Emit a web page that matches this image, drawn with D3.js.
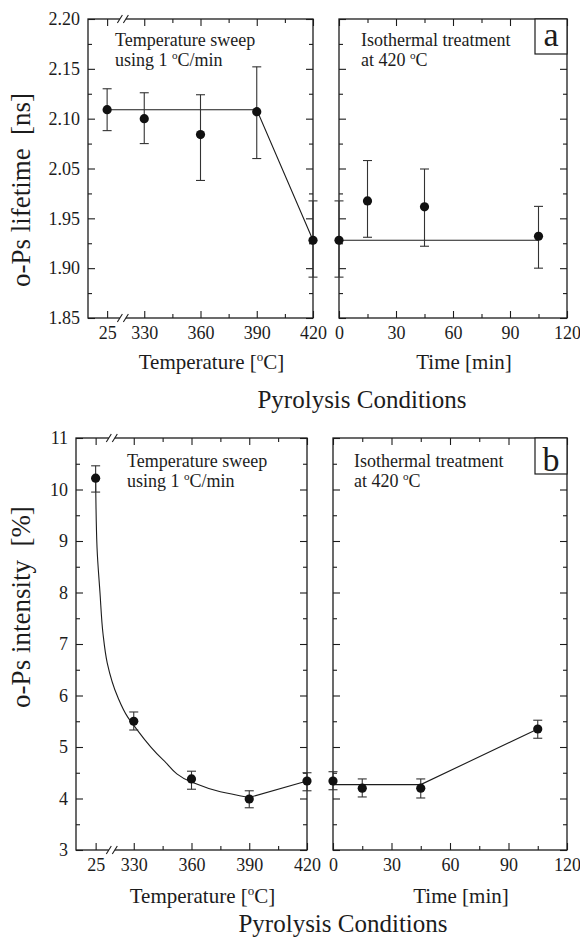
<!DOCTYPE html>
<html>
<head>
<meta charset="utf-8">
<script src="https://cdn.jsdelivr.net/npm/d3@7"></script>
<style>
  body { margin: 0; background: #fff; }
  svg { display: block; }
  svg text { font-family: "Liberation Serif", "Times New Roman", serif; }
</style>
</head>
<body>
<svg id="chart" width="580" height="937"></svg>
<script>
/* Temperature sweep data (left plots) */
const sweepTemps = [25, 330, 360, 390, 420];
const sweepLifetime = [2.109, 2.100, 2.084, 2.107, 1.928];
const sweepLifetimeHi = [2.130, 2.126, 2.124, 2.152, 1.985];
const sweepLifetimeLo = [2.088, 2.075, 2.026, 2.060, 1.891];
const sweepIntensity = [10.22, 5.50, 4.38, 3.99, 4.34];
const sweepIntensityHi = [10.46, 5.68, 4.53, 4.15, 4.50];
const sweepIntensityLo = [9.95, 5.33, 4.18, 3.82, 4.15];

/* Isothermal treatment data (right plots) */
const isoTimes = [0, 15, 45, 105];
const isoLifetime = [1.928, 1.985, 1.973, 1.932];
const isoLifetimeHi = [1.985, 2.058, 2.049, 1.974];
const isoLifetimeLo = [1.891, 1.931, 1.922, 1.900];
const isoIntensity = [4.34, 4.20, 4.20, 5.35];
const isoIntensityHi = [4.52, 4.38, 4.38, 5.52];
const isoIntensityLo = [4.17, 4.03, 4.01, 5.17];

/* Fit lines */
const lifetimeFitTemps = [25, 390, 420];
const lifetimeFitValues = [2.109, 2.109, 1.928];
const lifetimeFitTimes = [0, 105];
const lifetimeFitTimeValues = [1.928, 1.928];
const intensityFitTemps = [25, 36, 60, 84, 118, 202, 282, 330, 345, 360, 375, 390];
const intensityFitValues = [10.22, 8.88, 7.99, 7.20, 6.63, 5.97, 5.58, 5.42, 4.76, 4.32, 4.13, 4.02];
const intensityFitTailTemps = [390, 420];
const intensityFitTailValues = [4.02, 4.34];
const intensityFitTimes = [0, 45, 105];
const intensityFitTimeValues = [4.27, 4.27, 5.35];

/* Ticks */
const tempTicks = [25, 330, 360, 390, 420];
const tempMinorTicks = [345, 375, 405];
const timeTicks = [0, 30, 60, 90, 120];
const timeMinorTicks = [15, 45, 75, 105];
const lifetimeTicks = [1.85, 1.90, 1.95, 2.05, 2.10, 2.15, 2.20];
const lifetimeMinorTicks = [1.875, 1.925, 2.00, 2.075, 2.125, 2.175];
const intensityTicks = [3, 4, 5, 6, 7, 8, 9, 10, 11];
const intensityMinorTicks = [3.5, 4.5, 5.5, 6.5, 7.5, 8.5, 9.5, 10.5];

const FONT = '"Liberation Serif", "Times New Roman", serif';
const INK = '#1c1c1c';

let svg = d3.select('#chart')
    .attr('font-family', FONT)
    .attr('fill', INK);

/**
 * Append text with '^' marking a superscript letter (e.g. '^oC').
 */
function addText(parent, str, size) {
  let text = parent.append('text')
      .attr('font-family', FONT)
      .attr('font-size', size)
      .attr('fill', INK)
      .attr('xml:space', 'preserve');
  let parts = str.split('^');
  let shift = Math.round(size * 0.4);
  text.append('tspan').text(parts[0]);
  parts.slice(1).forEach(p => {
    text.append('tspan')
        .attr('dy', -shift)
        .attr('font-size', size * 0.62)
        .text(p[0]);
    text.append('tspan')
        .attr('dy', shift)
        .text(p.slice(1));
  });
  return text;
}

/**
 * Add one axis side of a plot, major and minor ticks, ticks pointing inward.
 */
function addAxis(g, axisFn, scale, ticks, minor, transform, labels) {
  let major = axisFn(scale)
      .tickValues(ticks)
      .tickSizeInner(-7)
      .tickSizeOuter(0)
      .tickPadding(8)
      .tickFormat(labels ? labels : '');
  let small = axisFn(scale)
      .tickValues(minor)
      .tickSizeInner(-4)
      .tickSizeOuter(0)
      .tickFormat('');

  [major, small].forEach(axis => {
    g.append('g')
        .attr('transform', transform)
        .call(axis)
        .call(a => a.attr('font-family', FONT).attr('font-size', 18))
        .call(a => a.select('.domain').remove())
        .call(a => a.selectAll('line').attr('stroke', INK).attr('stroke-width', 1.1))
        .call(a => a.selectAll('text').attr('fill', INK).attr('font-family', FONT));
  });
}

/**
 * Draw one plot: frame, axes, error bars, points and fit line.
 */
function drawPlot(opts) {
  let w = opts.width;
  let h = opts.height;
  let x = opts.xScale;
  let y = opts.yScale;
  let g = svg.append('g')
      .attr('transform', `translate(${opts.left},${opts.top})`);

  addAxis(g, d3.axisBottom, x, opts.xTicks, opts.xMinor, `translate(0,${h})`, d3.format('d'));
  addAxis(g, d3.axisTop, x, opts.xTicks, opts.xMinor, null, null);
  addAxis(g, d3.axisLeft, y, opts.yTicks, opts.yMinor, null, opts.yFormat);
  addAxis(g, d3.axisRight, y, opts.yTicks, opts.yMinor, `translate(${w},0)`, null);

  /* Frame */
  g.append('rect')
      .attr('width', w)
      .attr('height', h)
      .attr('fill', 'none')
      .attr('stroke', INK)
      .attr('stroke-width', 1.3);

  /* Axis break marks */
  if (opts.xBreak) {
    let xb = w * 0.155;
    [0, h].forEach(yy => {
      g.append('rect')
          .attr('x', xb - 3)
          .attr('y', yy - 2)
          .attr('width', 6)
          .attr('height', 4)
          .attr('fill', '#fff');
      [-3, 3].forEach(dx => {
        g.append('line')
            .attr('x1', xb + dx - 2.5)
            .attr('y1', yy + 4)
            .attr('x2', xb + dx + 2.5)
            .attr('y2', yy - 4)
            .attr('stroke', INK)
            .attr('stroke-width', 1.1);
      });
    });
  }

  /* Fit lines */
  opts.fits.forEach(fit => {
    let line = d3.line()
        .x(d => x(d[0]))
        .y(d => y(d[1]))
        .curve(fit.curve || d3.curveLinear);
    g.append('path')
        .attr('d', line(d3.zip(fit.xs, fit.ys)))
        .attr('fill', 'none')
        .attr('stroke', INK)
        .attr('stroke-width', 1.1);
  });

  /* Error bars */
  let rows = opts.xs.map((v, i) => ({x: v, y: opts.ys[i], hi: opts.hi[i], lo: opts.lo[i]}));
  let bars = g.append('g').selectAll('g')
      .data(rows)
      .join('g')
      .attr('stroke', '#333')
      .attr('stroke-width', 1.1);
  bars.append('line')
      .attr('x1', d => x(d.x))
      .attr('x2', d => x(d.x))
      .attr('y1', d => y(d.hi))
      .attr('y2', d => y(d.lo));
  ['hi', 'lo'].forEach(k => {
    bars.append('line')
        .attr('x1', d => x(d.x) - 4.5)
        .attr('x2', d => x(d.x) + 4.5)
        .attr('y1', d => y(d[k]))
        .attr('y2', d => y(d[k]));
  });

  /* Points */
  g.append('g').selectAll('circle')
      .data(rows)
      .join('circle')
      .attr('cx', d => x(d.x))
      .attr('cy', d => y(d.y))
      .attr('r', 4.6)
      .attr('fill', '#111');

  /* Notes */
  opts.notes.forEach((note, i) => {
    addText(g, note, 18)
        .attr('x', opts.noteX)
        .attr('y', opts.noteY + i * 20);
  });

  /* Axis title */
  addText(g, opts.xTitle, 21)
      .attr('x', w / 2 + 11)
      .attr('y', opts.titleY)
      .attr('text-anchor', 'middle');

  /* Panel letter */
  if (opts.letter) {
    let bx = w - 32;
    g.append('rect')
        .attr('x', bx)
        .attr('y', 0)
        .attr('width', 32)
        .attr('height', opts.letterH)
        .attr('fill', '#fff')
        .attr('stroke', INK)
        .attr('stroke-width', 1.2);
    g.append('text')
        .attr('x', bx + 16)
        .attr('y', opts.letterY)
        .attr('text-anchor', 'middle')
        .attr('font-family', FONT)
        .attr('font-size', 34)
        .attr('fill', INK)
        .text(opts.letter);
  }
  return g;
}

/**
 * Draw one panel: a temperature plot and a time plot side by side.
 */
function drawPanel(p) {
  let tempScale = d3.scaleLinear()
      .domain([25, 330, 420])
      .range([p.leftW * 0.085, p.leftW * 0.25, p.leftW]);
  let timeScale = d3.scaleLinear()
      .domain([0, 120])
      .range([0, p.rightW]);

  drawPlot({
    left: p.leftX, top: p.top, width: p.leftW, height: p.height,
    xScale: tempScale, yScale: p.yScale,
    xTicks: tempTicks, xMinor: tempMinorTicks,
    yTicks: p.yTicks, yMinor: p.yMinor, yFormat: p.yFormat,
    xBreak: true,
    xs: sweepTemps, ys: p.sweep, hi: p.sweepHi, lo: p.sweepLo,
    fits: p.sweepFits,
    notes: ['Temperature sweep', 'using 1 ^oC/min'],
    noteX: p.sweepNoteX, noteY: p.noteY,
    xTitle: 'Temperature [^oC]', titleY: p.titleY,
  });

  drawPlot({
    left: p.rightX, top: p.top, width: p.rightW, height: p.height,
    xScale: timeScale, yScale: p.yScale,
    xTicks: timeTicks, xMinor: timeMinorTicks,
    yTicks: p.yTicks, yMinor: p.yMinor, yFormat: null,
    xBreak: false,
    xs: isoTimes, ys: p.iso, hi: p.isoHi, lo: p.isoLo,
    fits: p.isoFits,
    notes: ['Isothermal treatment', 'at 420 ^oC'],
    noteX: p.isoNoteX, noteY: p.noteY,
    xTitle: 'Time [min]', titleY: p.titleY,
    letter: p.letter, letterH: p.letterH, letterY: p.letterY,
  });

  /* Y title */
  addText(svg, p.yTitle, 27)
      .attr('text-anchor', 'middle')
      .attr('transform', `translate(30,${p.yTitleY}) rotate(-90)`);

  /* Shared title */
  addText(svg, 'Pyrolysis Conditions', 25)
      .attr('x', p.pyroX)
      .attr('y', p.pyroY)
      .attr('text-anchor', 'middle');
}

/* Panel a: o-Ps lifetime */
let hA = 299;
drawPanel({
  top: 19, height: hA,
  leftX: 88, leftW: 225, rightX: 339, rightW: 228,
  yScale: d3.scaleLinear()
      .domain([1.85, 1.95, 2.05, 2.20])
      .range([hA, hA * 4 / 6, hA * 3 / 6, 0]),
  yTicks: lifetimeTicks, yMinor: lifetimeMinorTicks, yFormat: d3.format('.2f'),
  sweep: sweepLifetime, sweepHi: sweepLifetimeHi, sweepLo: sweepLifetimeLo,
  iso: isoLifetime, isoHi: isoLifetimeHi, isoLo: isoLifetimeLo,
  sweepFits: [{xs: lifetimeFitTemps, ys: lifetimeFitValues}],
  isoFits: [{xs: lifetimeFitTimes, ys: lifetimeFitTimeValues}],
  sweepNoteX: 27, isoNoteX: 22, noteY: 27,
  titleY: 350,
  letter: 'a', letterH: 35, letterY: 27,
  yTitle: 'o-Ps lifetime  [ns]', yTitleY: 190,
  pyroX: 362, pyroY: 408,
});

/* Panel b: o-Ps intensity */
let hB = 412;
drawPanel({
  top: 438, height: hB,
  leftX: 76, leftW: 231, rightX: 333, rightW: 234,
  yScale: d3.scaleLinear()
      .domain([3, 11])
      .range([hB, 0]),
  yTicks: intensityTicks, yMinor: intensityMinorTicks, yFormat: d3.format('d'),
  sweep: sweepIntensity, sweepHi: sweepIntensityHi, sweepLo: sweepIntensityLo,
  iso: isoIntensity, isoHi: isoIntensityHi, isoLo: isoIntensityLo,
  sweepFits: [
    {xs: intensityFitTemps, ys: intensityFitValues, curve: d3.curveMonotoneY},
    {xs: intensityFitTailTemps, ys: intensityFitTailValues},
  ],
  isoFits: [{xs: intensityFitTimes, ys: intensityFitTimeValues}],
  sweepNoteX: 51, isoNoteX: 21, noteY: 29,
  titleY: 465,
  letter: 'b', letterH: 36, letterY: 33,
  yTitle: 'o-Ps intensity  [%]', yTitleY: 607,
  pyroX: 343, pyroY: 932,
});
</script>
</body>
</html>
